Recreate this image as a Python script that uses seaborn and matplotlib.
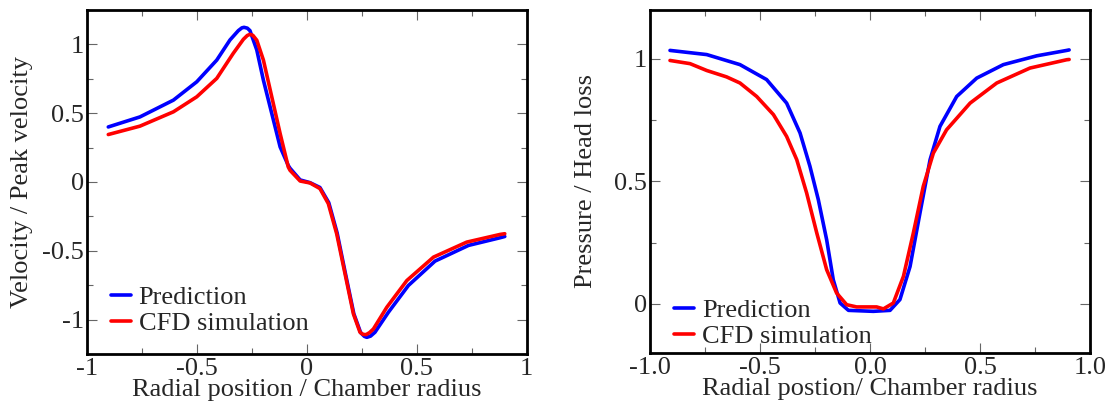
import numpy as np
import pandas as pd
import matplotlib
matplotlib.use("Agg")
import matplotlib.pyplot as plt
from matplotlib.ticker import MultipleLocator
import seaborn as sns

# --- Velocity profile (left panel) ---
vel_pred_x = [-0.902, -0.758, -0.606, -0.5, -0.409, -0.349, -0.311, -0.295, -0.285, -0.27, -0.258,
              -0.227, -0.197, -0.159, -0.121, -0.084, -0.076, -0.03, 0.015, 0.06, 0.10, 0.138,
              0.176, 0.214, 0.245, 0.262, 0.273, 0.29, 0.31, 0.371, 0.462, 0.583, 0.735, 0.879, 0.90]
vel_pred_y = [0.40, 0.473, 0.595, 0.728, 0.886, 1.032, 1.10, 1.12, 1.124, 1.118, 1.10,
              0.959, 0.74, 0.498, 0.255, 0.12, 0.10, 0.015, -0.005, -0.04, -0.15, -0.37,
              -0.667, -0.958, -1.095, -1.122, -1.129, -1.12, -1.092, -0.947, -0.752, -0.575, -0.461, -0.405, -0.396]

vel_cfd_x = [-0.902, -0.758, -0.606, -0.5, -0.409, -0.334, -0.288, -0.27, -0.258, -0.245, -0.227,
             -0.197, -0.159, -0.121, -0.084, -0.076, -0.03, 0.015, 0.06, 0.098, 0.136, 0.174,
             0.212, 0.242, 0.256, 0.27, 0.285, 0.303, 0.364, 0.455, 0.576, 0.727, 0.879, 0.90]
vel_cfd_y = [0.345, 0.406, 0.51, 0.619, 0.753, 0.935, 1.037, 1.065, 1.073, 1.066, 1.03,
             0.886, 0.619, 0.352, 0.109, 0.085, 0.007, -0.007, -0.048, -0.157, -0.376, -0.667,
             -0.958, -1.092, -1.108, -1.109, -1.095, -1.068, -0.91, -0.716, -0.546, -0.437, -0.381, -0.376]

# --- Pressure profile (right panel) ---
pres_pred_x = [-0.909, -0.742, -0.591, -0.47, -0.379, -0.318, -0.273, -0.235, -0.197, -0.167,
               -0.136, -0.098, 0.015, 0.091, 0.136, 0.182, 0.227, 0.273, 0.318, 0.394,
               0.485, 0.606, 0.758, 0.894, 0.905]
pres_pred_y = [1.035, 1.018, 0.977, 0.916, 0.82, 0.698, 0.562, 0.426, 0.262, 0.099,
               0.004, -0.026, -0.03, -0.026, 0.018, 0.153, 0.371, 0.589, 0.725, 0.847,
               0.922, 0.977, 1.013, 1.035, 1.037]

pres_cfd_x = [-0.909, -0.818, -0.742, -0.652, -0.591, -0.515, -0.439, -0.379, -0.333, -0.288,
              -0.242, -0.197, -0.152, -0.106, -0.061, 0.03, 0.061, 0.106, 0.152, 0.197,
              0.242, 0.288, 0.348, 0.455, 0.576, 0.727, 0.894, 0.905]
pres_cfd_y = [0.994, 0.981, 0.953, 0.927, 0.902, 0.847, 0.773, 0.684, 0.589, 0.453,
              0.29, 0.14, 0.045, -0.003, -0.012, -0.012, -0.02, 0.004, 0.113, 0.29,
              0.48, 0.616, 0.711, 0.82, 0.902, 0.963, 0.997, 0.998]

series_names = ["Prediction", "CFD simulation"]
series_colors = {"Prediction": "#0000ff", "CFD simulation": "#ff0000"}


def to_frame(px, py, cx, cy):
    return pd.concat([
        pd.DataFrame({"x": px, "y": py, "series": series_names[0]}),
        pd.DataFrame({"x": cx, "y": cy, "series": series_names[1]}),
    ], ignore_index=True)


vel_df = to_frame(vel_pred_x, vel_pred_y, vel_cfd_x, vel_cfd_y)
pres_df = to_frame(pres_pred_x, pres_pred_y, pres_cfd_x, pres_cfd_y)

sns.set_style("white")
plt.rcParams["font.family"] = ["Liberation Serif", "DejaVu Serif"]

fig = plt.figure(figsize=(11.09, 4.03), dpi=100)
ax1 = fig.add_axes([0.0782, 0.1216, 0.3968, 0.8536])
ax2 = fig.add_axes([0.5861, 0.1241, 0.3968, 0.8511])

FS = 19


def style_axes(ax):
    for sp in ax.spines.values():
        sp.set_linewidth(2.0)
        sp.set_color("black")
    ax.tick_params(which="both", direction="in", top=True, right=True,
                   bottom=True, left=True, color="#666666", labelsize=FS)
    ax.tick_params(which="major", length=7, width=0.8)
    ax.tick_params(which="minor", length=4, width=0.8)
    ax.tick_params(axis="x", pad=3)
    ax.tick_params(axis="y", pad=2)


legend_anchor = {0: (0.055, 0.055), 1: (0.055, 0.015)}
for i, (ax, df) in enumerate([(ax1, vel_df), (ax2, pres_df)]):
    sns.lineplot(data=df, x="x", y="y", hue="series", palette=series_colors,
                 sort=False, linewidth=2.6, ax=ax)
    style_axes(ax)
    leg = ax.legend(loc="lower left", frameon=False, fontsize=FS, handlelength=0.75,
                    handletextpad=0.3, labelspacing=0.08, borderaxespad=0, borderpad=0,
                    bbox_to_anchor=legend_anchor[i])
    for ln in leg.get_lines():
        ln.set_linewidth(2.6)

# left panel axes
ax1.set_xlim(-1, 1)
ax1.set_ylim(-1.25, 1.25)
ax1.xaxis.set_minor_locator(MultipleLocator(0.25))
ax1.yaxis.set_minor_locator(MultipleLocator(0.25))
ax1.set_xticks([-1, -0.5, 0, 0.5, 1])
ax1.set_xticklabels(["-1", "-0.5", "0", "0.5", "1"])
ax1.set_yticks([-1, -0.5, 0, 0.5, 1])
ax1.set_yticklabels(["-1", "-0.5", "0", "0.5", "1"])
ax1.set_xlabel("Radial position / Chamber radius", fontsize=FS, labelpad=-1)
ax1.set_ylabel("Velocity / Peak velocity", fontsize=FS)
ax1.yaxis.set_label_coords(-0.122, 0.5)

# right panel axes
ax2.set_xlim(-1, 1)
ax2.set_ylim(-0.2, 1.2)
ax2.xaxis.set_minor_locator(MultipleLocator(0.25))
ax2.yaxis.set_minor_locator(MultipleLocator(0.25))
ax2.set_xticks([-1, -0.5, 0, 0.5, 1])
ax2.set_xticklabels(["-1.0", "-0.5", "0.0", "0.5", "1.0"])
ax2.set_yticks([0, 0.5, 1])
ax2.set_yticklabels(["0", "0.5", "1"])
ax2.set_xlabel("Radial postion/ Chamber radius", fontsize=FS, labelpad=-1)
ax2.set_ylabel("Pressure / Head loss", fontsize=FS)
ax2.yaxis.set_label_coords(-0.12, 0.5)

fig.savefig("out.png", dpi=100)
